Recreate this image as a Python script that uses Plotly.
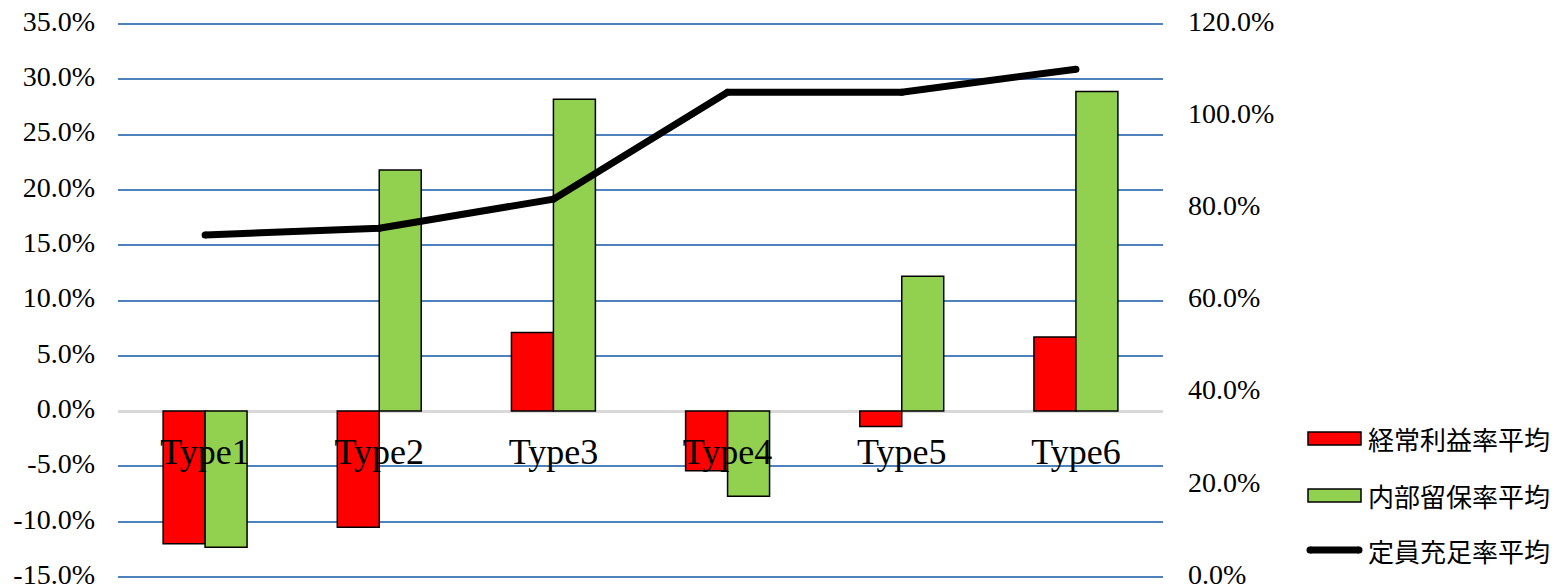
import plotly.graph_objects as go

categories = ["Type1", "Type2", "Type3", "Type4", "Type5", "Type6"]
ordinary_profit = [-12.0, -10.5, 7.1, -5.4, -1.4, 6.7]      # 経常利益率平均 (%)
retained_earnings = [-12.3, 21.8, 28.2, -7.7, 12.2, 28.9]   # 内部留保率平均 (%)
capacity_fill = [74.2, 75.7, 82.0, 105.2, 105.2, 110.2]     # 定員充足率平均 (%)

left_ticks = [-15, -10, -5, 0, 5, 10, 15, 20, 25, 30, 35]
left_labels = ["-15.0%", "-10.0%", "-5.0%", "0.0%", "5.0%", "10.0%", "15.0%",
               "20.0%", "25.0%", "30.0%", "35.0%"]
right_ticks = [0, 20, 40, 60, 80, 100, 120]
right_labels = ["0.0%", "20.0%", "40.0%", "60.0%", "80.0%", "100.0%", "120.0%"]

series_names = ["経常利益率平均", "内部留保率平均", "定員充足率平均"]

W, H = 1555, 587
PAD = 3  # px of extra plot area above/below so edge gridlines are drawn
L, R, T, B = 118, 392, 24 - PAD, 10 - PAD
PW, PH = W - L - R, H - T - B
INNER = PH - 2 * PAD  # pixel span of the nominal axis range


def px_x(px):
    return (px - L) / PW


def px_y(py):
    return (H - B - py) / PH


RED = "#FF0000"
GREEN = "#92D050"
SERIF = "Liberation Serif"
CJK = "Noto Sans CJK JP"

yl = [-15, 35]
yr = [0, 120]
yl_pad = (yl[1] - yl[0]) * PAD / INNER
yr_pad = (yr[1] - yr[0]) * PAD / INNER

fig = go.Figure()
fig.add_trace(go.Bar(x=categories, y=ordinary_profit, name=series_names[0],
                     marker=dict(color=RED, line=dict(color="black", width=1.5)),
                     yaxis="y", showlegend=False))
fig.add_trace(go.Bar(x=categories, y=retained_earnings, name=series_names[1],
                     marker=dict(color=GREEN, line=dict(color="black", width=1.5)),
                     yaxis="y", showlegend=False))
fig.add_trace(go.Scatter(x=categories, y=capacity_fill, name=series_names[2],
                         mode="lines+markers", line=dict(color="black", width=7),
                         marker=dict(color="black", size=7, line=dict(width=0)),
                         yaxis="y2", showlegend=False))

shapes = []
annotations = []
# Manual legend
rows = [438, 495, 550]
shapes.append(dict(type="rect", xref="paper", yref="paper",
                   x0=px_x(1308), x1=px_x(1361), y0=px_y(445), y1=px_y(432),
                   fillcolor=RED, line=dict(color="black", width=1.5)))
shapes.append(dict(type="rect", xref="paper", yref="paper",
                   x0=px_x(1308), x1=px_x(1361), y0=px_y(502), y1=px_y(489),
                   fillcolor=GREEN, line=dict(color="black", width=1.5)))
shapes.append(dict(type="line", xref="paper", yref="paper",
                   x0=px_x(1310), x1=px_x(1359), y0=px_y(550), y1=px_y(550),
                   line=dict(color="black", width=7)))
for cx in (1310, 1359):
    shapes.append(dict(type="circle", xref="paper", yref="paper",
                       x0=px_x(cx - 3.5), x1=px_x(cx + 3.5),
                       y0=px_y(550 + 3.5), y1=px_y(550 - 3.5),
                       fillcolor="black", line=dict(width=0)))
for name, ry in zip(series_names, rows):
    annotations.append(dict(text=name, xref="paper", yref="paper",
                            x=px_x(1366), y=px_y(ry), xanchor="left", yanchor="middle",
                            showarrow=False, font=dict(family=CJK, size=26, color="black")))

yl_range = [yl[0] - yl_pad, yl[1] + yl_pad]
fig.update_layout(
    width=W, height=H,
    margin=dict(l=L, r=R, t=T, b=B, autoexpand=False),
    paper_bgcolor="white", plot_bgcolor="white",
    barmode="group", bargap=0.518, bargroupgap=0,
    xaxis=dict(anchor="free", position=(0 - yl_range[0]) / (yl_range[1] - yl_range[0]),
               showline=False, ticks="", automargin=False,
               showgrid=False, zeroline=False, range=[-0.5, 5.5],
               tickfont=dict(family=SERIF, size=36, color="black"),
               ticklabelstandoff=16),
    yaxis=dict(range=yl_range, tickvals=left_ticks, ticktext=left_labels,
               showgrid=True, gridcolor="#4F81BD", gridwidth=2,
               zeroline=True, zerolinecolor="#D9D9D9", zerolinewidth=2.5,
               showline=False, ticks="", ticklabelstandoff=22, automargin=False,
               ticklabeloverflow="allow", ticklabelshift=-3,
               tickfont=dict(family=SERIF, size=28, color="black")),
    yaxis2=dict(range=[yr[0] - yr_pad, yr[1] + yr_pad], tickvals=right_ticks, ticktext=right_labels,
                overlaying="y", side="right", anchor="x", automargin=False,
                showgrid=False, zeroline=False, showline=False, ticks="",
                ticklabelstandoff=24, ticklabeloverflow="allow", ticklabelshift=-3,
                tickfont=dict(family=SERIF, size=28, color="black")),
    shapes=shapes, annotations=annotations,
)

fig.write_html("out.html")
